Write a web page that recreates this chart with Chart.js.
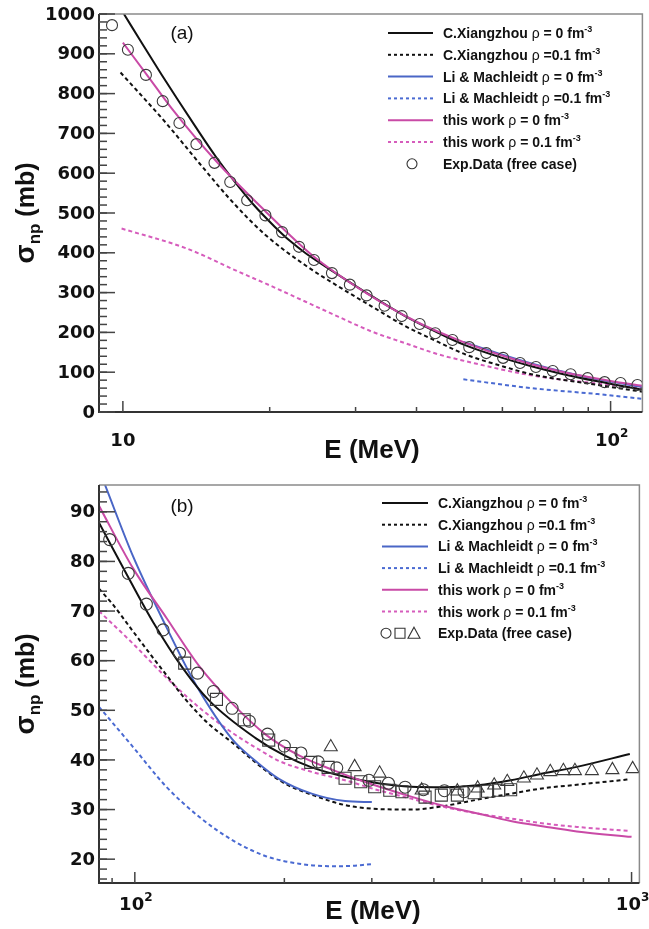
<!DOCTYPE html>
<html>
<head>
<meta charset="utf-8">
<script src="https://cdn.jsdelivr.net/npm/chart.js@4.4.1/dist/chart.umd.min.js"></script>
<style>
  body { margin: 0; background: #fff; }
  canvas { display: block; }
</style>
</head>
<body>
<canvas id="chartA" width="649" height="465"></canvas>
<canvas id="chartB" width="649" height="464"></canvas>
<script>
// ---- panel (a) : 10 - 116 MeV ----
const aExpE = [9.5, 10.24, 11.15, 12.07, 13.06, 14.15, 15.41, 16.6, 17.98, 19.6, 21.2, 22.97, 24.65, 26.83, 29.2, 31.6,
               34.4, 37.3, 40.6, 43.7, 47.4, 51.3, 55.6, 60.2, 65.2, 70.3, 76.1, 82.8, 89.7, 97.2, 104.8, 113.5];
const aExpS = [972, 910, 847, 781, 726, 673, 626, 578, 532, 494, 452, 415, 382, 349, 320, 293,
               267, 241, 221, 198, 181, 163, 148, 136, 123, 113, 103, 95, 85, 75, 73, 68];

const aXz0E = [10.05, 11, 12, 13, 14, 15.5, 17, 18.5, 20.5, 22, 23.7, 27.7, 32.4, 37.9, 44.3, 50.3, 60, 68.8, 80, 94, 116.2];
const aXz0S = [1000, 922, 848, 782, 722, 642, 577, 522, 465, 430, 399, 344, 291, 241, 199, 168, 136, 115, 95, 77, 56];
const aXz1E = [9.89, 12.28, 14.35, 16.8, 19.6, 23.7, 27.7, 32.4, 37.9, 44.3, 50.3, 60, 68.8, 94, 116.2];
const aXz1S = [853, 725, 625, 527, 445, 368, 315, 265, 216, 176, 145, 115, 95, 68, 51];
const aLm0E = [49.9, 60, 68.8, 80, 94, 116.2];
const aLm0S = [176, 144, 122, 101, 82, 63];
const aLm1E = [49.9, 68.8, 94, 116.2];
const aLm1S = [82, 60, 45, 33];
const aTw0E = [10, 11.22, 12.59, 15.49, 19.5, 24.55, 31.62, 39.8, 50.1, 63.1, 79.4, 100, 116.2];
const aTw0S = [928, 846, 763, 632, 507, 392, 298, 228, 175, 133, 101, 78, 66];
const aTw1E = [9.94, 13.5, 17.3, 19.6, 23.7, 27.7, 32.4, 37.9, 44.3, 50.3, 68.8, 90, 116.2];
const aTw1S = [461, 411, 352, 323, 277, 239, 202, 173, 145, 128, 92, 74, 60];

// ---- panel (b) : 85 - 1000 MeV ----
const bCircE = [89, 97, 105.5, 114, 123, 133.8, 144, 157, 170, 185, 200, 216, 234, 255, 296, 324, 350, 381, 420, 460];
const bCircS = [84.4, 77.6, 71.4, 66.2, 61.5, 57.5, 53.8, 50.4, 47.8, 45.2, 42.8, 41.4, 39.6, 38.4, 35.9, 35.3, 34.5, 34.0, 33.8, 33.6];
const bSqE = [126, 146, 166, 186, 206, 226, 245, 265, 285, 304, 326, 345, 384, 414, 446, 482, 513, 540, 571];
const bSqS = [59.5, 52.2, 48.1, 44.0, 41.3, 39.5, 38.5, 36.3, 35.6, 34.6, 33.9, 33.6, 32.5, 32.9, 32.9, 33.4, 33.7, 33.9, 34.0];
const bTriE = [248, 277, 311, 378, 446, 490, 529, 562, 607, 645, 686, 729, 769, 832, 915, 1005];
const bTriS = [42.6, 38.6, 37.3, 33.9, 33.7, 34.3, 34.9, 35.6, 36.3, 36.9, 37.6, 37.8, 37.8, 37.8, 38.0, 38.2];

const bXz0E = [84.7, 97, 108.8, 124.9, 141, 175, 200, 227, 265, 309, 360, 420, 490, 571, 666, 776, 992];
const bXz0S = [87.8, 76.8, 67.8, 58.5, 52.0, 44.4, 40.9, 38.5, 36.6, 35.3, 34.6, 34.5, 34.9, 35.9, 37.3, 38.6, 41.2];
const bXz1E = [84.7, 90, 99, 108, 116, 127, 140, 157, 180, 200, 230, 265, 310, 360, 400, 490, 571, 666, 776, 992];
const bXz1S = [74.5, 71.5, 66, 61, 57, 52, 47.5, 43.5, 38.5, 35.3, 32.8, 30.9, 30.1, 30.0, 30.4, 32.0, 33.2, 34.3, 35.0, 36.1];
const bLm0E = [87.1, 99.2, 115.7, 133, 157, 175, 195, 227, 265, 300];
const bLm0S = [95.4, 81.0, 66.8, 55.0, 44.2, 39.8, 36.2, 33.2, 31.7, 31.5];
const bLm1E = [84.7, 99.2, 115.7, 134.9, 157.4, 183.6, 214, 245, 265, 300];
const bLm1S = [50.7, 42.6, 34.6, 28.5, 23.8, 20.6, 19.1, 18.6, 18.6, 19.0];
const bTw0E = [84.7, 99.2, 116, 135, 157, 184, 214, 250, 290, 360, 420, 490, 571, 666, 776, 1000];
const bTw0S = [91.2, 78.6, 68.5, 58.8, 51.4, 45.0, 40.9, 38.0, 35.6, 32.6, 30.7, 29.2, 27.7, 26.6, 25.6, 24.5];
const bTw1E = [84.7, 99, 116, 135, 157, 184, 195, 227, 265, 309, 360, 420, 490, 571, 666, 776, 992];
const bTw1S = [70, 63.5, 56.5, 50.5, 45.5, 41.2, 39.8, 37.6, 35.9, 33.9, 32.2, 30.5, 29.2, 28.2, 27.2, 26.5, 25.7];

const legendNames = [
  ['C.Xiangzhou ', ' = 0 fm'],
  ['C.Xiangzhou ', ' =0.1 fm'],
  ['Li & Machleidt ', ' = 0 fm'],
  ['Li & Machleidt ', ' =0.1 fm'],
  ['this work ', ' = 0 fm'],
  ['this work ', ' = 0.1 fm']
];

const BLACK = '#111111', BLUE = '#4a66c6', PINK = '#c94aa6', PINK_D = '#d65cbc', BLUE_D = '#4a6ad2';
const F = "'Liberation Sans', Arial, sans-serif";
const TICKF = "bold 18px 'DejaVu Sans', sans-serif";

function pts(xs, ys) {
  return xs.map((x, i) => ({ x: x, y: ys[i] }));
}

function line(xs, ys, color, dashed) {
  return {
    data: pts(xs, ys),
    showLine: true,
    borderColor: color,
    borderWidth: 2,
    borderDash: dashed ? [4, 3] : [],
    pointRadius: 0,
    cubicInterpolationMode: 'monotone',
    fill: false
  };
}

function marks(xs, ys, style, r) {
  return {
    data: pts(xs, ys),
    showLine: false,
    pointStyle: style,
    pointRadius: r,
    borderColor: '#3a3a3a',
    borderWidth: 1.1,
    backgroundColor: 'rgba(0,0,0,0)'
  };
}

function rich(ctx, x, y, parts) {
  let cx = x;
  parts.forEach(p => {
    ctx.font = p[1];
    ctx.fillText(p[0], cx, y + (p[2] || 0));
    cx += ctx.measureText(p[0]).width;
  });
  return cx - x;
}

function richWidth(ctx, parts) {
  let w = 0;
  parts.forEach(p => { ctx.font = p[1]; w += ctx.measureText(p[0]).width; });
  return w;
}

function legendLabel(i) {
  if (i === 6) return [['Exp.Data (free case)', 'bold 14px ' + F]];
  return [
    [legendNames[i][0], 'bold 14px ' + F],
    ['ρ', '14px ' + F],
    [legendNames[i][1], 'bold 14px ' + F],
    ['-3', 'bold 9px ' + F, -6]
  ];
}

function decor(o) {
  return {
    id: 'decor',
    afterDatasetsDraw(chart) {
      const ctx = chart.ctx, a = chart.chartArea, x = chart.scales.x, y = chart.scales.y;
      ctx.save();

      // frame
      ctx.strokeStyle = '#8a8a8a';
      ctx.lineWidth = 1.5;
      ctx.beginPath();
      ctx.moveTo(a.left, a.top); ctx.lineTo(a.right, a.top); ctx.lineTo(a.right, a.bottom);
      ctx.stroke();
      ctx.strokeStyle = '#333';
      ctx.lineWidth = 2;
      ctx.beginPath();
      ctx.moveTo(a.left, a.top); ctx.lineTo(a.left, a.bottom); ctx.lineTo(a.right, a.bottom);
      ctx.stroke();

      // ticks (inside)
      ctx.lineWidth = 1.5;
      ctx.strokeStyle = '#444';
      const seg = (x1, y1, x2, y2) => { ctx.beginPath(); ctx.moveTo(x1, y1); ctx.lineTo(x2, y2); ctx.stroke(); };
      o.yMinor.forEach(v => { const p = y.getPixelForValue(v); seg(a.left, p, a.left + 8, p); });
      o.yMajor.forEach(v => { const p = y.getPixelForValue(v); seg(a.left, p, a.left + 16, p); });
      o.xMinor.forEach(v => { const p = x.getPixelForValue(v); seg(p, a.bottom, p, a.bottom - 5); });
      o.xMajor.forEach(v => { const p = x.getPixelForValue(v); seg(p, a.bottom, p, a.bottom - 11); });

      // tick labels
      ctx.fillStyle = '#111';
      ctx.font = TICKF;
      ctx.textAlign = 'right';
      ctx.textBaseline = 'middle';
      o.yMajor.forEach(v => ctx.fillText(String(v), a.left - 4, y.getPixelForValue(v) + 1));
      ctx.textAlign = 'left';
      ctx.textBaseline = 'alphabetic';
      o.xLabels.forEach(l => {
        const parts = [[l[1], TICKF]];
        if (l[2]) parts.push([l[2], "bold 12px 'DejaVu Sans', sans-serif", -9]);
        const w = richWidth(ctx, parts);
        rich(ctx, x.getPixelForValue(l[0]) - w / 2 + (l[2] ? 1 : 0), o.xLabelY, parts);
      });

      // axis titles
      ctx.font = 'bold 26px ' + F;
      ctx.textAlign = 'center';
      ctx.fillText('E (MeV)', o.xTitle[0], o.xTitle[1]);
      ctx.textAlign = 'left';
      const yt = [['σ', 'bold 28px ' + F], ['np', 'bold 17px ' + F, 6], [' (mb)', 'bold 25px ' + F]];
      ctx.save();
      ctx.translate(o.yTitle[0], (a.top + a.bottom) / 2);
      ctx.rotate(-Math.PI / 2);
      rich(ctx, -richWidth(ctx, yt) / 2, 10, yt);
      ctx.restore();

      // panel label
      ctx.font = '19px ' + F;
      ctx.textAlign = 'center';
      ctx.fillText(o.panel, o.panelPos[0], o.panelPos[1]);
      ctx.textAlign = 'left';

      // legend
      const L = o.legend;
      const kinds = [[BLACK, false], [BLACK, true], [BLUE, false], [BLUE_D, true], [PINK, false], [PINK_D, true]];
      for (let i = 0; i < 7; i++) {
        const cy = L.y0 + i * L.dy;
        if (i < 6) {
          ctx.strokeStyle = kinds[i][0];
          ctx.lineWidth = 2;
          ctx.setLineDash(kinds[i][1] ? [3, 3] : []);
          seg(L.x1, cy, L.x2, cy);
          ctx.setLineDash([]);
        } else {
          ctx.strokeStyle = '#333';
          ctx.lineWidth = 1.1;
          L.syms.forEach(s => {
            ctx.beginPath();
            if (s[0] === 'c') ctx.arc(s[1], cy, 5, 0, Math.PI * 2);
            else if (s[0] === 's') ctx.rect(s[1] - 5, cy - 5, 10, 10);
            else { ctx.moveTo(s[1], cy - 6); ctx.lineTo(s[1] + 6, cy + 5); ctx.lineTo(s[1] - 6, cy + 5); ctx.closePath(); }
            ctx.stroke();
          });
        }
        ctx.fillStyle = '#111';
        rich(ctx, L.tx, cy + 5, legendLabel(i));
      }
      ctx.restore();
    }
  };
}

function baseOptions(xmin, xmax, ymin, ymax, pad) {
  return {
    responsive: false,
    animation: false,
    layout: { padding: pad },
    plugins: { legend: { display: false }, tooltip: { enabled: false } },
    scales: {
      x: { type: 'logarithmic', min: xmin, max: xmax, display: false },
      y: { type: 'linear', min: ymin, max: ymax, display: false }
    }
  };
}

const range = (a, b, s) => { const r = []; for (let v = a; v <= b + 1e-9; v += s) r.push(Math.round(v * 100) / 100); return r; };

new Chart(document.getElementById('chartA'), {
  type: 'scatter',
  data: {
    datasets: [
      marks(aExpE, aExpS, 'circle', 5.5),
      line(aTw0E, aTw0S, PINK, false),
      line(aXz0E, aXz0S, BLACK, false),
      line(aLm0E, aLm0S, BLUE, false),
      line(aXz1E, aXz1S, BLACK, true),
      line(aTw1E, aTw1S, PINK_D, true),
      line(aLm1E, aLm1S, BLUE_D, true)
    ]
  },
  options: baseOptions(8.934, 116.2, 0, 1000, { left: 99, top: 14, right: 4, bottom: 53 }),
  plugins: [decor({
    yMajor: range(0, 1000, 100),
    yMinor: range(0, 1000, 20),
    xMajor: [10, 100],
    xMinor: [20, 30, 40, 50, 60, 70, 80, 90],
    xLabels: [[10, '10', ''], [100, '10', '2']],
    xLabelY: 446,
    xTitle: [372, 458],
    yTitle: [24],
    panel: '(a)',
    panelPos: [182, 39],
    legend: { y0: 33, dy: 21.8, x1: 388, x2: 433, tx: 443, syms: [['c', 412]] }
  })]
});

new Chart(document.getElementById('chartB'), {
  type: 'scatter',
  data: {
    datasets: [
      marks(bCircE, bCircS, 'circle', 6),
      marks(bSqE, bSqS, 'rect', 8.5),
      marks(bTriE, bTriS, 'triangle', 7.5),
      line(bTw0E, bTw0S, PINK, false),
      line(bXz0E, bXz0S, BLACK, false),
      line(bLm0E, bLm0S, BLUE, false),
      line(bXz1E, bXz1S, BLACK, true),
      line(bTw1E, bTw1S, PINK_D, true),
      line(bLm1E, bLm1S, BLUE_D, true)
    ]
  },
  options: baseOptions(84.7, 1037, 15.2, 95.4, { left: 99, top: 20, right: 6, bottom: 46 }),
  plugins: [decor({
    yMajor: range(20, 90, 10),
    yMinor: range(16, 94, 2),
    xMajor: [100, 1000],
    xMinor: [90, 200, 300, 400, 500, 600, 700, 800, 900],
    xLabels: [[100, '10', '2'], [1000, '10', '3']],
    xLabelY: 445,
    xTitle: [373, 454],
    yTitle: [24],
    panel: '(b)',
    panelPos: [182, 47],
    legend: { y0: 38, dy: 21.7, x1: 382, x2: 428, tx: 438, syms: [['c', 386], ['s', 400], ['t', 414]] }
  })]
});
</script>
</body>
</html>
